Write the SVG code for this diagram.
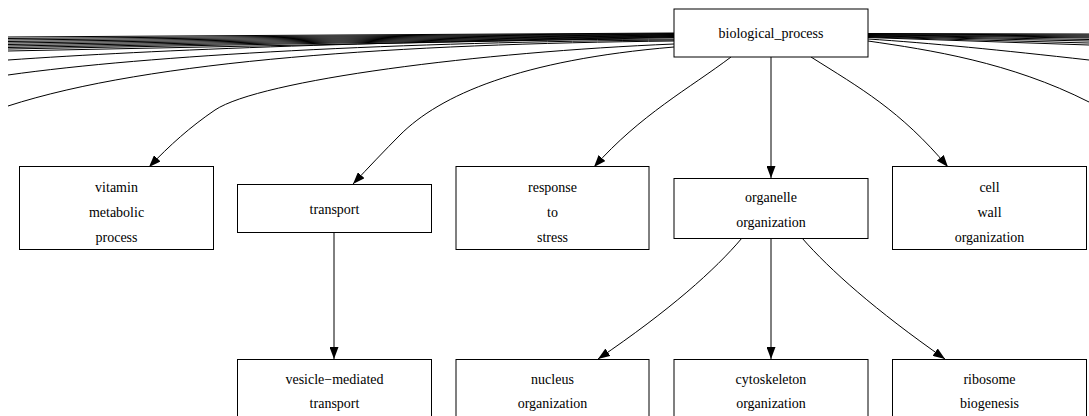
<svg xmlns="http://www.w3.org/2000/svg" width="1089" height="416" viewBox="0 0 1089 416">
  <defs>
    <marker id="arrow" viewBox="0 0 12 9" refX="12" refY="4.5" markerWidth="12" markerHeight="9" markerUnits="userSpaceOnUse" orient="auto">
      <path d="M0,0 L12,4.5 L0,9 Z" fill="#000"/>
    </marker>
    <style>
      .edge { fill: none; stroke: #000; stroke-width: 1; }
      .arr { marker-end: url(#arrow); }
      .box { fill: #fff; stroke: #000; stroke-width: 1; }
      .lbl { font-family: "Liberation Serif", "Times New Roman", serif; font-size: 14px; fill: #000; text-anchor: middle; }
    </style>
  </defs>
  <rect width="1089" height="416" fill="#fff"/>

  <!-- connectors -->
  <g id="edges">
    <!-- left fan toward terms outside the view -->
    <path class="edge" d="M674,33 L8,37"/>
    <path class="edge" d="M674,33.5 L8,38.5"/>
    <path class="edge" d="M674,34 L8,40"/>
    <path class="edge" d="M674,34.5 L8,41.5"/>
    <path class="edge" d="M674,35 L8,43"/>
    <path class="edge" d="M674,35.5 L8,44.5"/>
    <path class="edge" d="M674,36 L8,46"/>
    <path class="edge" d="M674,36.5 L8,47.5"/>
    <path class="edge" d="M674,37 L8,49"/>
    <path class="edge" d="M674,37.5 L8,51"/>
    <path class="edge" d="M674,39 C400,40 150,50 8,60"/>
    <path class="edge" d="M674,40 C400,42 150,55 8,75"/>
    <path class="edge" d="M674,41 C400,44 150,60 8,106"/>
    <!-- right fan toward terms outside the view -->
    <path class="edge" d="M868,33.5 L1089,34"/>
    <path class="edge" d="M868,34 L1089,35"/>
    <path class="edge" d="M868,34.5 L1089,36"/>
    <path class="edge" d="M868,35 L1089,37"/>
    <path class="edge" d="M868,35.5 L1089,38"/>
    <path class="edge" d="M868,36 L1089,39.5"/>
    <path class="edge" d="M868,36.5 L1089,41"/>
    <path class="edge" d="M868,37 L1089,43"/>
    <path class="edge" d="M868,37.5 L1089,45"/>
    <path class="edge" d="M868,39 C930,43 1000,50 1089,60"/>
    <path class="edge" d="M868,41 C930,50 1010,62 1089,102"/>
    <!-- biological_process children -->
    <path class="edge arr" d="M674,44 C480,52 260,80 215,110 C190,127 170,145 149,167"/>
    <path class="edge arr" d="M674,47 C520,60 440,95 400,135 C385,150 368,168 353,184"/>
    <path class="edge arr" d="M731,57 C690,88 640,115 594,167"/>
    <path class="edge arr" d="M771,57 L771,178"/>
    <path class="edge arr" d="M811,57 C860,88 900,110 948,167"/>
    <!-- second level -->
    <path class="edge arr" d="M334,232 L334,359"/>
    <path class="edge arr" d="M742,238 C715,270 670,310 598,359"/>
    <path class="edge arr" d="M771,238 L771,359"/>
    <path class="edge arr" d="M802,238 C830,270 875,310 945,359"/>
  </g>

  <g id="biological_process">
    <rect class="box" x="674" y="9" width="194" height="48"/>
    <text class="lbl" x="771" y="38">biological_process</text>
  </g>
  <g id="vitamin_metabolic_process">
    <rect class="box" x="19.5" y="166.5" width="194" height="83"/>
    <text class="lbl" x="116.5" y="192">vitamin</text>
    <text class="lbl" x="116.5" y="217">metabolic</text>
    <text class="lbl" x="116.5" y="242">process</text>
  </g>
  <g id="transport">
    <rect class="box" x="237.5" y="184.5" width="194" height="48"/>
    <text class="lbl" x="334.5" y="214">transport</text>
  </g>
  <g id="response_to_stress">
    <rect class="box" x="456" y="166.5" width="193" height="83"/>
    <text class="lbl" x="552.5" y="192">response</text>
    <text class="lbl" x="552.5" y="217">to</text>
    <text class="lbl" x="552.5" y="242">stress</text>
  </g>
  <g id="organelle_organization">
    <rect class="box" x="674" y="178.5" width="194" height="60"/>
    <text class="lbl" x="771" y="202">organelle</text>
    <text class="lbl" x="771" y="227">organization</text>
  </g>
  <g id="cell_wall_organization">
    <rect class="box" x="892.5" y="166.5" width="194" height="83"/>
    <text class="lbl" x="989.5" y="192">cell</text>
    <text class="lbl" x="989.5" y="217">wall</text>
    <text class="lbl" x="989.5" y="242">organization</text>
  </g>
  <g id="vesicle_mediated_transport">
    <rect class="box" x="237.5" y="359.5" width="194" height="60"/>
    <text class="lbl" x="334.5" y="384">vesicle&#8722;mediated</text>
    <text class="lbl" x="334.5" y="408">transport</text>
  </g>
  <g id="nucleus_organization">
    <rect class="box" x="456" y="359.5" width="193" height="60"/>
    <text class="lbl" x="552.5" y="384">nucleus</text>
    <text class="lbl" x="552.5" y="408">organization</text>
  </g>
  <g id="cytoskeleton_organization">
    <rect class="box" x="674" y="359.5" width="194" height="60"/>
    <text class="lbl" x="771" y="384">cytoskeleton</text>
    <text class="lbl" x="771" y="408">organization</text>
  </g>
  <g id="ribosome_biogenesis">
    <rect class="box" x="892.5" y="359.5" width="194" height="60"/>
    <text class="lbl" x="989.5" y="384">ribosome</text>
    <text class="lbl" x="989.5" y="408">biogenesis</text>
  </g>
</svg>
